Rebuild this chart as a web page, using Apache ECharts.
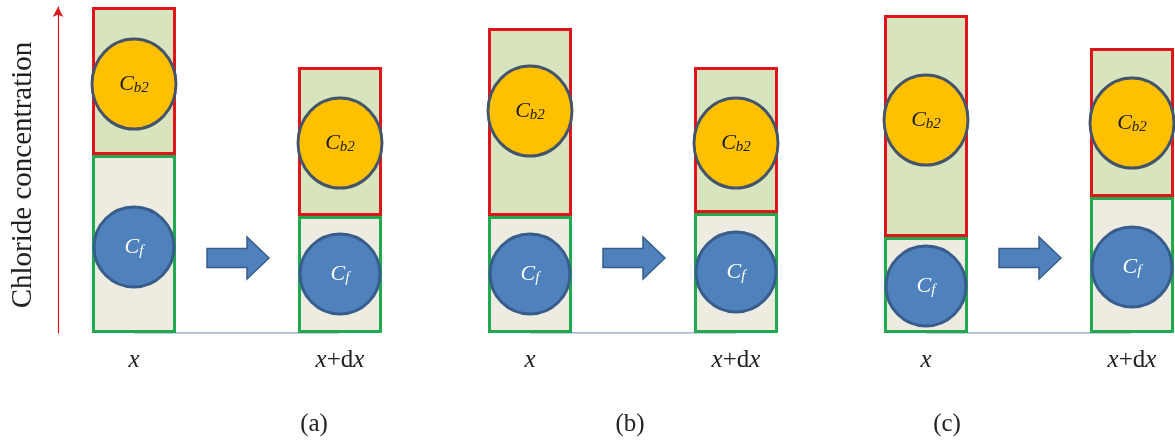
<!DOCTYPE html>
<html><head><meta charset="utf-8">
<script src="https://cdn.jsdelivr.net/npm/echarts@6/dist/echarts.min.js"></script>
<style>html,body{margin:0;padding:0;background:#fff}#c{width:1175px;height:447px}</style>
</head><body><div id="c"></div>
<script>
// ---- data (concentration units) ----
const panels = ['(a)', '(b)', '(c)'];
const categories = ['x', 'x+dx'];
const cfValues = [[178, 117], [117, 120], [96, 136]];      // free chloride part (lower bars)
const cb2Values = [[148, 149], [188, 146], [222, 149]];    // bound chloride part (upper bars)
const cfCircleLevel = [[86, 59], [59, 61], [47, 66]];
const cb2CircleLevel = [[249, 190], [222, 190], [213, 210]];
const arrowLevel = [75, 75, 75];
const yMax = 326;
const yTitle = 'Chloride concentration';

// ---- layout / style ----
const serif = 'Liberation Serif';
const gridLefts = [31, 427, 823];
const panelTitleX = [314, 630, 947];

const grids = [], xAxes = [], yAxes = [], series = [], titles = [];
panels.forEach((p, i) => {
  grids.push({left: gridLefts[i], width: 412, top: 7, bottom: 114,
    containLabel: false, outerBoundsMode: 'none'});
  xAxes.push({
    type: 'category', gridIndex: i, data: categories, boundaryGap: true,
    axisLine: {show: false}, axisTick: {show: false},
    axisLabel: {
      interval: 0, hideOverlap: false,
      margin: 15, color: '#222', fontFamily: serif, fontSize: 25,
      formatter: v => v === 'x' ? '{i|x}' : '{i|x}{n|+d}{i|x}',
      rich: {
        i: {fontStyle: 'italic', fontFamily: serif, fontSize: 25, color: '#222'},
        n: {fontFamily: serif, fontSize: 25, color: '#222'}
      }
    }
  });
  yAxes.push(i === 0 ? {
    type: 'value', gridIndex: i, min: 0, max: yMax, offset: -27,
    name: yTitle, nameLocation: 'middle', nameGap: 20, nameRotate: 90,
    nameTextStyle: {fontFamily: serif, fontSize: 29, color: '#222', padding: [0, 10, 0, 0]},
    axisLine: {show: true, symbol: ['none', 'arrow'], symbolSize: [8, 10],
      lineStyle: {color: '#e0151b', width: 1.2}},
    axisTick: {show: false}, axisLabel: {show: false}, splitLine: {show: false}
  } : {
    type: 'value', gridIndex: i, min: 0, max: yMax, show: false, splitLine: {show: false}
  });
  // baseline between the two bars
  series.push({
    type: 'line', xAxisIndex: i, yAxisIndex: i, data: [0, 0], symbol: 'none', z: 1,
    lineStyle: {color: '#93a8c2', width: 1.5}, silent: true
  });
  series.push({
    type: 'bar', xAxisIndex: i, yAxisIndex: i, stack: 's' + i, data: cfValues[i],
    barWidth: 84, z: 2,
    itemStyle: {color: '#eeece1', borderColor: '#22a94f', borderWidth: 3}
  });
  series.push({
    type: 'bar', xAxisIndex: i, yAxisIndex: i, stack: 's' + i, data: cb2Values[i],
    barWidth: 84, z: 2,
    itemStyle: {color: '#d7e4bd', borderColor: '#e0151b', borderWidth: 3}
  });
  series.push({
    type: 'scatter', xAxisIndex: i, yAxisIndex: i, data: cb2CircleLevel[i], z: 4,
    symbol: 'circle', symbolSize: [84, 90],
    itemStyle: {color: '#ffc000', borderColor: '#44546a', borderWidth: 3, opacity: 1},
    label: {show: true, position: 'inside', formatter: '{c|C}{s|b2}',
      rich: {
        c: {fontFamily: serif, fontStyle: 'italic', fontSize: 22, color: '#1a1a1a'},
        s: {fontFamily: serif, fontStyle: 'italic', fontSize: 15, color: '#1a1a1a', padding: [8, 0, 0, 0]}
      }}
  });
  series.push({
    type: 'scatter', xAxisIndex: i, yAxisIndex: i, data: cfCircleLevel[i], z: 4,
    symbol: 'circle', symbolSize: [80, 80],
    itemStyle: {color: '#4f81bd', borderColor: '#385d8a', borderWidth: 3, opacity: 1},
    label: {show: true, position: 'inside', formatter: '{c|C}{s|f}',
      rich: {
        c: {fontFamily: serif, fontStyle: 'italic', fontSize: 22, color: '#ffffff'},
        s: {fontFamily: serif, fontStyle: 'italic', fontSize: 15, color: '#ffffff', padding: [8, 0, 0, 0]}
      }}
  });
  // block arrow between x and x+dx
  series.push({
    type: 'custom', xAxisIndex: i, yAxisIndex: i, z: 4, data: [[0, arrowLevel[i]]],
    renderItem: (params, api) => {
      const a = api.coord([0, api.value(1)]);
      const b = api.coord([1, api.value(1)]);
      const cx = (a[0] + b[0]) / 2 + 1, cy = a[1];
      const pts = [
        [cx - 31, cy - 9.5], [cx + 9, cy - 9.5], [cx + 9, cy - 21], [cx + 31, cy],
        [cx + 9, cy + 21], [cx + 9, cy + 9.5], [cx - 31, cy + 9.5]
      ];
      return {type: 'polygon', shape: {points: pts},
        style: {fill: '#4f81bd', stroke: '#385d8a', lineWidth: 1.5}};
    }
  });
  titles.push({
    text: p, left: panelTitleX[i], top: 412, padding: 0, textAlign: 'center',
    textStyle: {fontFamily: serif, fontSize: 25, fontWeight: 'normal', color: '#222'}
  });
});

const chart = echarts.init(document.getElementById('c'), null, {renderer: 'canvas'});
chart.setOption({
  animation: false,
  backgroundColor: '#ffffff',
  title: titles,
  grid: grids, xAxis: xAxes, yAxis: yAxes, series: series
});
</script></body></html>
